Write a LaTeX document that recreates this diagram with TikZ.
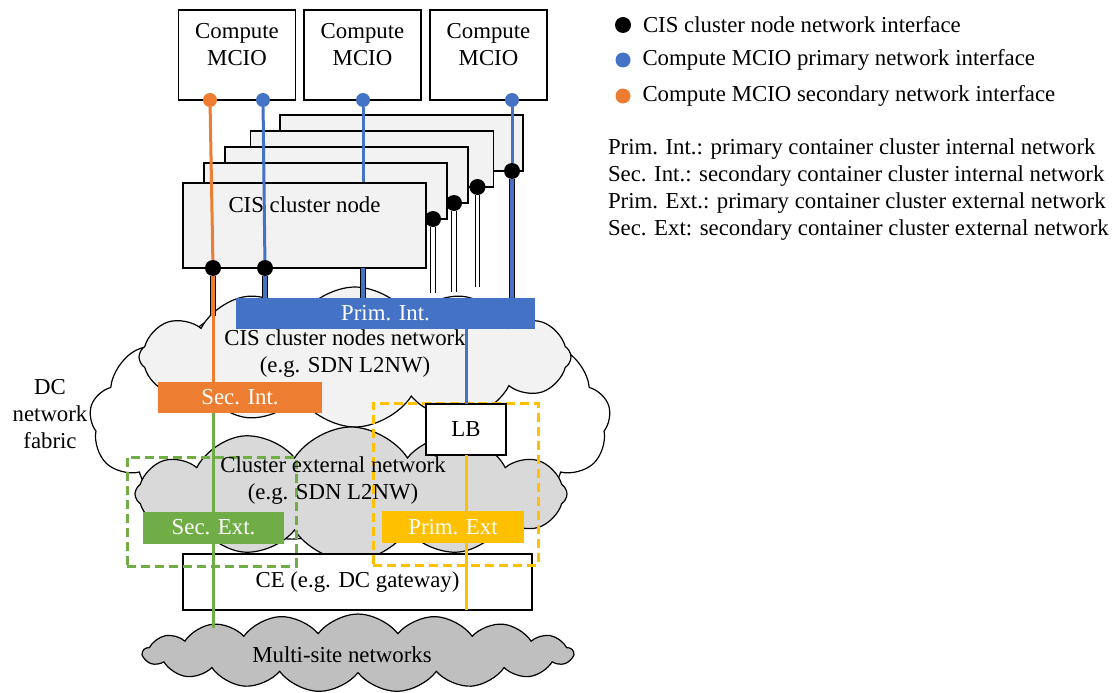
\documentclass[tikz,border=0pt]{standalone}
\usepackage{fontspec}
\setmainfont{Liberation Serif}
\usetikzlibrary{positioning,shapes.symbols}

\definecolor{primblue}{HTML}{4472C4}
\definecolor{secorange}{HTML}{ED7D31}
\definecolor{extgreen}{HTML}{70AD47}
\definecolor{extyellow}{HTML}{FFC000}
\definecolor{nodegray}{HTML}{F2F2F2}
\definecolor{extgray}{HTML}{D9D9D9}
\definecolor{sitegray}{HTML}{BFBFBF}

\begin{document}
\begin{tikzpicture}[x=1pt,y=-1pt,
            font=\fontsize{22.8}{27}\selectfont,
            every node/.style={inner sep=0,outer sep=0},
            box/.style={draw,line width=1.2pt,fill=white},
            mcio/.style={box,minimum width=117pt,minimum height=90pt,align=center,text depth=22pt},
            clnode/.style={box,fill=nodegray,minimum width=243pt,minimum height=56pt},
            bar/.style={minimum height=31pt,text=white},
            net/.style={cloud,draw,line width=1.2pt,cloud puffs=12,cloud puff arc=115,cloud ignores aspect},
            iface/.style={circle,fill=black,minimum size=16pt},
            port/.style={circle,minimum size=14pt},
            wire/.style={line width=3pt},
            tube/.style={line width=1.3pt,double distance=3.2pt},
            zone/.style={draw,line width=3pt,dash pattern=on 9pt off 5pt}
          ]
          \useasboundingbox (0,0) rectangle (1116,693);

          %clouds
          \node[net,fill=white,cloud puffs=13,minimum width=521pt,minimum height=245pt] (dcnet) at (350,420) {};
          \node[net,fill=nodegray,minimum width=432pt,minimum height=140pt] (cisnet) at (355,357) {};
          \node[net,fill=extgray,minimum width=432pt,minimum height=134pt] (extnet) at (351,494) {};
          \node[net,fill=sitegray,cloud puffs=17,cloud puff arc=105,minimum width=430pt,minimum height=78pt] (sitenet) at (358,653) {};
          \node[align=center] (dclab) at (50,414) {DC\\network\\fabric};
          \node[align=center] (cislab) at (345,354) {CIS cluster nodes network\\(e.g. SDN L2NW)};
          \node (sitelab) at (342,655) {Multi-site networks};

          %compute MCIOs
          \node[mcio] (mcioA) at (237,55) {Compute\\MCIO};
          \node[mcio] (mcioB) at (362.5,55) {Compute\\MCIO};
          \node[mcio] (mcioC) at (488.5,55) {Compute\\MCIO};
          \node[port,fill=secorange] (secA) at (210,100) {};
          \node[port,fill=primblue] (primA) at (263,100) {};
          \node[port,fill=primblue] (primB) at (363,100) {};
          \node[port,fill=primblue] (primC) at (512,100) {};

          %cluster nodes
          \foreach \i/\x/\y/\d in {5/401.5/143/11,4/372/159/16,3/346.5/175/14,2/325.5/191/14}{
            \node[clnode] (cl\i) at (\x,\y) {};
            \node[iface] (if\i) at ([xshift=-\d pt]cl\i.south east) {};
          }
          \draw[wire,primblue] (primB) -- (primB |- cl2.south);
          \node[clnode,minimum height=85pt,text depth=42pt] (clF) at (304.5,225.5) {CIS cluster node};
          \node[iface] (ifA) at (213,268) {};
          \node[iface] (ifB) at (265,268) {};

          %internal networks
          \node[bar,fill=primblue,minimum width=299pt] (primint) at (385.5,313.5) {Prim. Int.};
          \node[bar,fill=secorange,minimum width=164pt] (secint) at (240,397) {Sec. Int.};

          \coordinate (secdrop) at (213,316);
          \draw[wire,secorange] (secA) -- (ifA);
          \draw[wire,primblue] (primA) -- (ifB);
          \draw[wire,primblue] (primC) -- (if5);
          \draw[tube,double=secorange] (ifA) -- (secdrop);
          \draw[wire,secorange] (secdrop) -- (secdrop |- secint.north);
          \draw[tube,double=primblue] (ifB) -- (ifB |- primint.north);
          \draw[tube,double=primblue] (clF.south -| primB) -- (primB |- primint.north);
          \draw[tube,double=primblue] (if5) -- (if5 |- primint.north);
          \foreach \i/\e in {2/293,3/292,4/287}{
            \coordinate (lvl\i) at (0,\e);
            \draw[tube,double=white] (if\i) -- (if\i |- lvl\i);
          }

          %external side
          \node[box,minimum width=349pt,minimum height=56pt] (ce) at (357.5,582) {CE (e.g. DC gateway)};
          \node[zone,draw=extgreen,minimum width=169pt,minimum height=109pt] (seczone) at (211.5,511.5) {};
          \node[zone,draw=extyellow,minimum width=165pt,minimum height=162pt] (primzone) at (455.5,484) {};
          \node[box,minimum width=80pt,minimum height=51pt] (lb) at (466,429.5) {LB};
          \coordinate (siteedge) at (213.5,628);
          \draw[wire,primblue] (primint.south -| lb) -- (lb);
          \draw[wire,extgreen] (secint.south -| siteedge) -- (siteedge);
          \draw[wire,extyellow] (lb) -- (lb |- ce.south);
          \node[bar,fill=extgreen,minimum width=141pt,minimum height=32pt] (secext) at (213.5,527.5) {Sec. Ext.};
          \node[bar,fill=extyellow,minimum width=142pt,minimum height=32pt] (primext) at (453,527) {Prim. Ext};
          \node[align=center] (extlab) at (333,481) {Cluster external network\\(e.g. SDN L2NW)};

          %legend
          \node[iface] (keyif) at (623,25) {};
          \node[port,fill=primblue,minimum size=15pt] (keyprim) at (623,60) {};
          \node[port,fill=secorange,minimum size=15pt] (keysec) at (623,96) {};
          \node[right=12pt of keyif] (keyiftxt) {CIS cluster node network interface};
          \node[right=12pt of keyprim] (keyprimtxt) {Compute MCIO primary network interface};
          \node[right=12pt of keysec] (keysectxt) {Compute MCIO secondary network interface};
          \node[anchor=west,align=left] (abbr) at (608,189.5) {Prim. Int.: primary container cluster internal network\\Sec. Int.: secondary container cluster internal network\\Prim. Ext.: primary container cluster external network\\Sec. Ext: secondary container cluster external network};
      \end{tikzpicture}
\end{document}
